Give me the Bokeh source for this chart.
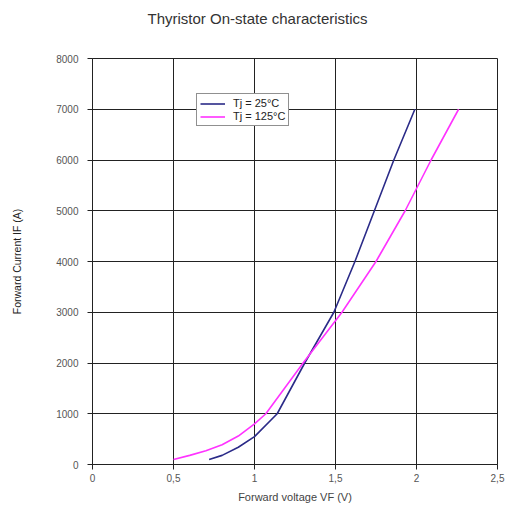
from bokeh.plotting import figure
from bokeh.models import Legend, LegendItem, FixedTicker, Range1d, Title
from bokeh.embed import file_html
from bokeh.resources import INLINE

# Data
v_25 = [0.72, 0.80, 0.90, 1.00, 1.14, 1.31, 1.49, 1.62, 1.74, 1.86, 1.99]
i_25 = [100, 180, 340, 550, 1000, 2000, 3000, 4000, 5000, 6000, 7000]
v_125 = [0.50, 0.60, 0.70, 0.80, 0.90, 1.00, 1.07, 1.30, 1.54, 1.75, 1.93, 2.09, 2.26]
i_125 = [100, 180, 270, 390, 560, 800, 1000, 2000, 3000, 4000, 5000, 6000, 7000]
x_ticks = [0, 0.5, 1, 1.5, 2, 2.5]
x_tick_labels = ["0", "0,5", "1", "1,5", "2", "2,5"]
y_ticks = [0, 1000, 2000, 3000, 4000, 5000, 6000, 7000, 8000]
series_names = ["Tj = 25°C", "Tj = 125°C"]
title_text = "Thyristor On-state characteristics"
x_label = "Forward voltage VF (V)"
y_label = "Forward Current IF (A)"

W, H = 506, 508
p = figure(width=W, height=H, output_backend="svg", toolbar_location=None,
           x_range=Range1d(0, 2.5), y_range=Range1d(0, 8000),
           min_border_left=92, min_border_right=9, min_border_top=58,
           min_border_bottom=44)
p.background_fill_color = "white"
p.border_fill_color = "white"
p.outline_line_color = "#222222"
p.outline_line_width = 1

for ax in (p.xaxis[0], p.yaxis[0]):
    ax.axis_line_color = "#222222"
    ax.major_tick_line_color = "#222222"
    ax.major_tick_out = 5
    ax.major_tick_in = 0
    ax.minor_tick_line_color = None
    ax.major_label_text_color = "#555555"
    ax.major_label_text_font = "Liberation Sans"
    ax.major_label_text_font_size = "10px"

p.xaxis.ticker = FixedTicker(ticks=x_ticks)
p.xaxis.major_label_overrides = {t: l for t, l in zip(x_ticks, x_tick_labels)}
p.xaxis.major_label_standoff = 4
p.yaxis.ticker = FixedTicker(ticks=y_ticks)
p.yaxis.major_label_standoff = 9

p.xgrid.ticker = FixedTicker(ticks=x_ticks)
p.ygrid.ticker = FixedTicker(ticks=y_ticks)
p.xgrid.grid_line_color = "#222222"
p.ygrid.grid_line_color = "#222222"
p.xgrid.grid_line_width = 1
p.ygrid.grid_line_width = 1

p.xaxis.axis_label = x_label
p.xaxis.axis_label_text_font = "Liberation Sans"
p.xaxis.axis_label_text_font_size = "11px"
p.xaxis.axis_label_text_font_style = "normal"
p.xaxis.axis_label_text_color = "#444444"
p.xaxis.axis_label_standoff = 6

p.yaxis.axis_label = y_label
p.yaxis.axis_label_text_font = "Liberation Sans"
p.yaxis.axis_label_text_font_size = "10.5px"
p.yaxis.axis_label_text_font_style = "normal"
p.yaxis.axis_label_text_color = "#222222"
p.yaxis.axis_label_standoff = 30

r1 = p.line(v_25, i_25, line_color="#2B2B88", line_width=1.6)
r2 = p.line(v_125, i_125, line_color="#FF33FF", line_width=1.6)

legend = Legend(items=[LegendItem(label=series_names[0], renderers=[r1]),
                       LegendItem(label=series_names[1], renderers=[r2])],
                location=(104, 338))
legend.border_line_color = "#222222"
legend.border_line_width = 1
legend.background_fill_alpha = 1
legend.label_text_font = "Liberation Sans"
legend.label_text_font_size = "11px"
legend.label_text_color = "#222222"
legend.glyph_width = 25
legend.glyph_height = 11
legend.label_height = 11
legend.label_standoff = 8
legend.spacing = 1
legend.padding = 3
legend.margin = 0
p.add_layout(legend, "center")

# Spacer panel between the title and the frame
p.add_layout(Title(text=" ", text_font_size="22px", standoff=0), "above")

p.title.text = title_text
p.title.text_font = "Liberation Sans"
p.title.text_font_size = "15px"
p.title.text_font_style = "normal"
p.title.text_color = "#333333"
p.title.align = "left"
p.title.offset = 55

open("out.html", "w").write(file_html(p, INLINE))
